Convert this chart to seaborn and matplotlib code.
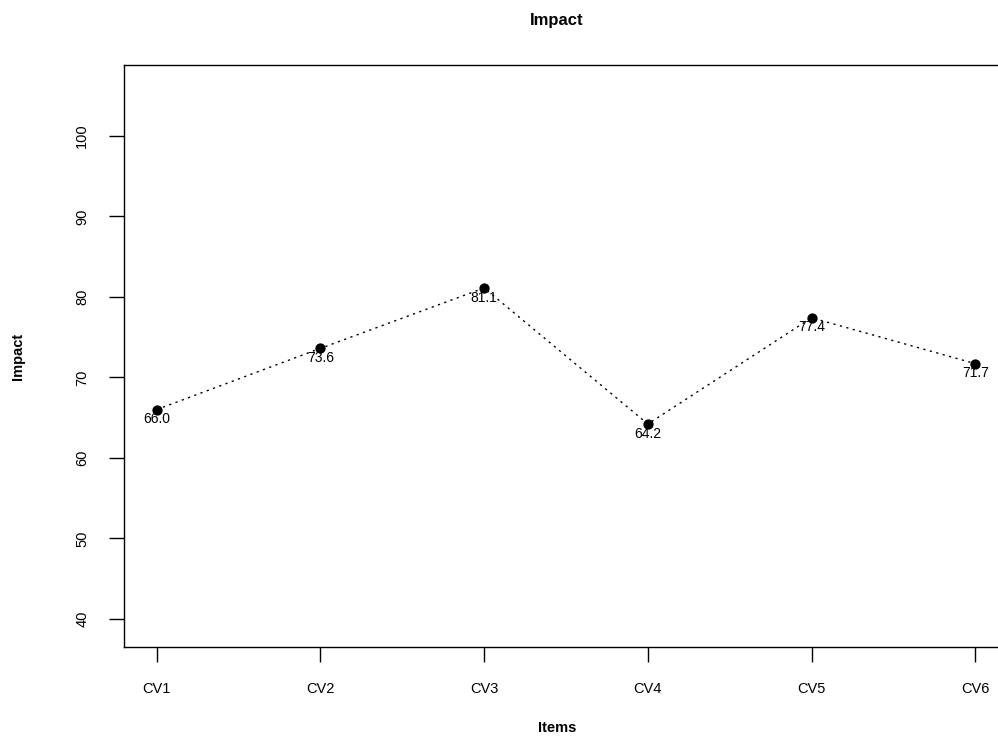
import matplotlib
matplotlib.use("Agg")
import matplotlib.pyplot as plt
import seaborn as sns
import pandas as pd

items = ["CV1", "CV2", "CV3", "CV4", "CV5", "CV6"]
impact = [66.0, 73.6, 81.1, 64.2, 77.4, 71.7]
y_ticks = [40, 50, 60, 70, 80, 90, 100]

sns.set_theme(style="white")
plt.rcParams["font.family"] = ["Liberation Sans", "DejaVu Sans"]
plt.rcParams["text.color"] = "black"

W, H = 998, 738
fig = plt.figure(figsize=(W / 100, H / 100), dpi=100)
fig.patch.set_facecolor("white")

# plot region in pixel units (left, top, right, bottom)
L, T, R, B = 124, 65, 1008, 647
ax = fig.add_axes([L / W, (H - B) / H, (R - L) / W, (B - T) / H])
ax.set_facecolor("white")

df = pd.DataFrame({"pos": range(len(items)), "Impact": impact})
sns.lineplot(data=df, x="pos", y="Impact", ax=ax, color="black",
             linewidth=1.0, linestyle=(0, (1.6, 3.2)), sort=False)
sns.scatterplot(data=df, x="pos", y="Impact", ax=ax, color="black",
                s=55, edgecolor="black", linewidth=0, zorder=3)

for x, v in zip(df["pos"], impact):
    ax.annotate(f"{v:.1f}", (x, v), xytext=(0, -7), textcoords="offset points",
                ha="center", va="center", fontsize=10, color="black")

ax.set_xlim(-0.2, 5.2)
ax.set_ylim(36.5, 108.8)
ax.set_xticks(range(len(items)))
ax.set_xticklabels(items)
ax.set_yticks(y_ticks)
ax.set_yticklabels([str(t) for t in y_ticks], rotation=90, va="center")
ax.set_xlabel("")
ax.set_ylabel("")

ax.tick_params(axis="both", which="major", direction="out", length=11,
               width=1.0, color="black", labelsize=10.5, labelcolor="black",
               left=True, bottom=True)
ax.tick_params(axis="y", pad=14)
ax.tick_params(axis="x", pad=14)

for side in ["left", "top", "bottom", "right"]:
    ax.spines[side].set_visible(True)
    ax.spines[side].set_color("black")
    ax.spines[side].set_linewidth(1.0)

fig.text(557 / W, 1 - 20 / H, "Impact", ha="center", va="center",
         fontsize=12, fontweight="bold", color="black")
fig.text(557 / W, 1 - 728 / H, "Items", ha="center", va="center",
         fontsize=10.5, fontweight="bold", color="black")
fig.text(18 / W, 1 - 356 / H, "Impact", ha="center", va="center",
         rotation=90, fontsize=10.5, fontweight="bold", color="black")

fig.savefig("out.png", dpi=100, facecolor="white")
